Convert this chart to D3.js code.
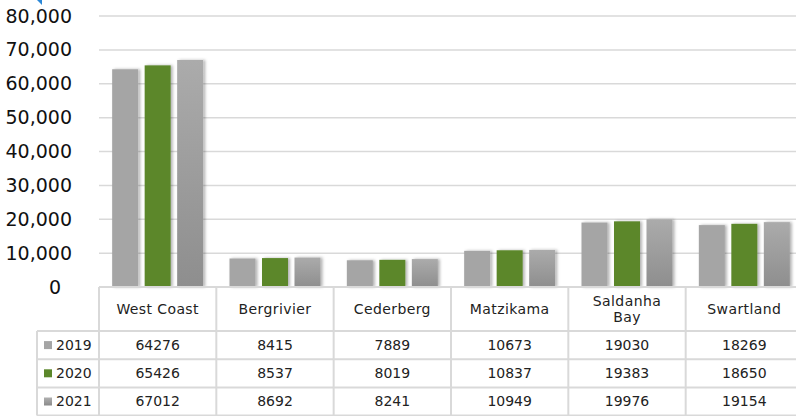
<!DOCTYPE html>
<html>
<head>
<meta charset="utf-8">
<script src="https://cdn.jsdelivr.net/npm/d3@7"></script>
<style>
  body { margin: 0; background: #fff; }
  svg { display: block; font-family: "DejaVu Sans", sans-serif; }
</style>
</head>
<body>
<svg></svg>
<script>
let categories = ["West Coast", "Bergrivier", "Cederberg", "Matzikama", "Saldanha Bay", "Swartland"];
let series = ["2019", "2020", "2021"];
let values2019 = [64276, 8415, 7889, 10673, 19030, 18269];
let values2020 = [65426, 8537, 8019, 10837, 19383, 18650];
let values2021 = [67012, 8692, 8241, 10949, 19976, 19154];
let yTicks = [0, 10000, 20000, 30000, 40000, 50000, 60000, 70000, 80000];

let width = 796;
let height = 416;
let plotLeft = 99;
let plotRight = 803;
let plotTop = 16;
let plotBottom = 287;
let headerH = 44;
let rowH = 28.2;
let legendLeft = 37;

let rows = [values2019, values2020, values2021];
let fills = ["#a5a5a5", "#5b872a", "url(#grad2021)"];
let swatch = ["#a5a5a5", "#5b872a", "#9b9b9b"];

let svg = d3.select("svg").attr("width", width).attr("height", height);

let defs = svg.append("defs");
let grad = defs.append("linearGradient").attr("id", "grad2021")
  .attr("x1", 0).attr("y1", 0).attr("x2", 0).attr("y2", 1);
grad.append("stop").attr("offset", "0%").attr("stop-color", "#ababab");
grad.append("stop").attr("offset", "100%").attr("stop-color", "#8e8e8e");
let sw = defs.append("linearGradient").attr("id", "sw2021")
  .attr("x1", 0).attr("y1", 0).attr("x2", 0).attr("y2", 1);
sw.append("stop").attr("offset", "0%").attr("stop-color", "#b0b0b0");
sw.append("stop").attr("offset", "100%").attr("stop-color", "#8a8a8a");
let shadow = defs.append("filter").attr("id", "shadow")
  .attr("x", "-20%").attr("y", "-10%").attr("width", "150%").attr("height", "120%");
shadow.append("feDropShadow").attr("dx", 2).attr("dy", 0).attr("stdDeviation", 1.6)
  .attr("flood-color", "#000").attr("flood-opacity", 0.3);

let x = d3.scaleBand().domain(categories).range([plotLeft, plotRight]);
let xSub = d3.scaleBand().domain(series).range([0, x.bandwidth()])
  .paddingInner(0.2).paddingOuter(0.405);
let y = d3.scaleLinear().domain([0, 80000]).range([plotBottom, plotTop]);

// gridlines
svg.append("g").selectAll("line").data(yTicks.slice(1)).enter().append("line")
  .attr("x1", plotLeft).attr("x2", width)
  .attr("y1", d => y(d)).attr("y2", d => y(d))
  .attr("stroke", "#d9d9d9").attr("stroke-width", 1.5);

// y axis labels
let yAxis = d3.axisLeft(y).tickValues(yTicks).tickFormat(d3.format(",")).tickSize(0).tickPadding(0);
let yg = svg.append("g").attr("transform", "translate(72,0)").call(yAxis);
yg.select(".domain").remove();
yg.selectAll("text").attr("font-size", 19).attr("fill", "#111")
  .attr("font-family", "DejaVu Sans, sans-serif")
  .attr("dx", d => d === 0 ? -11 : 0);

// bars
let groups = svg.append("g").selectAll("g").data(series).enter().append("g")
  .attr("fill", (s, i) => fills[i]);
groups.selectAll("rect")
  .data((s, i) => categories.map((c, j) => ({ c: c, s: s, v: rows[i][j] })))
  .enter().append("rect")
  .attr("x", d => x(d.c) + xSub(d.s))
  .attr("width", xSub.bandwidth())
  .attr("y", d => y(d.v))
  .attr("height", d => y(0) - y(d.v))
  .attr("filter", "url(#shadow)");

// data table
let border = "#d9d9d9";
let t = svg.append("g");
let tableBottom = plotBottom + headerH + rowH * 3;

// horizontal lines
t.append("line").attr("x1", plotLeft).attr("x2", width)
  .attr("y1", plotBottom).attr("y2", plotBottom).attr("stroke", border).attr("stroke-width", 2);
[0, 1, 2, 3].forEach(k => {
  let yy = plotBottom + headerH + rowH * k;
  t.append("line").attr("x1", legendLeft).attr("x2", width)
    .attr("y1", yy).attr("y2", yy).attr("stroke", border).attr("stroke-width", 2);
});
// vertical lines
t.append("line").attr("x1", legendLeft).attr("x2", legendLeft)
  .attr("y1", plotBottom + headerH).attr("y2", tableBottom).attr("stroke", border).attr("stroke-width", 2);
categories.forEach(c => {
  t.append("line").attr("x1", x(c)).attr("x2", x(c))
    .attr("y1", plotBottom).attr("y2", tableBottom).attr("stroke", border).attr("stroke-width", 2);
});

// header labels
categories.forEach(c => {
  let cx = x(c) + x.bandwidth() / 2;
  let words = c === "Saldanha Bay" ? ["Saldanha", "Bay"] : [c];
  let txt = t.append("text").attr("x", cx).attr("text-anchor", "middle")
    .attr("font-size", 14).attr("fill", "#222").attr("letter-spacing", 0.4);
  words.forEach((w, k) => {
    txt.append("tspan").attr("x", cx)
      .attr("y", plotBottom + headerH / 2 + (k - (words.length - 1) / 2) * 15.5)
      .attr("dy", "0.35em").text(w);
  });
});

// rows
series.forEach((s, i) => {
  let cy = plotBottom + headerH + rowH * i + rowH / 2;
  t.append("rect").attr("x", 44).attr("y", cy - 4).attr("width", 8).attr("height", 8)
    .attr("fill", i === 2 ? "url(#sw2021)" : swatch[i]);
  t.append("text").attr("x", 56).attr("y", cy).attr("dy", "0.35em")
    .attr("font-size", 14).attr("fill", "#222").text(s);
  categories.forEach((c, j) => {
    t.append("text").attr("x", x(c) + x.bandwidth() / 2).attr("y", cy).attr("dy", "0.35em")
      .attr("text-anchor", "middle").attr("font-size", 14).attr("fill", "#222")
      .text(rows[i][j]);
  });
});

// small selection marker at the top-left
svg.append("path").attr("d", "M37,0 L42,0 L42,5 Z").attr("fill", "#2b88d8");
</script>
</body>
</html>
